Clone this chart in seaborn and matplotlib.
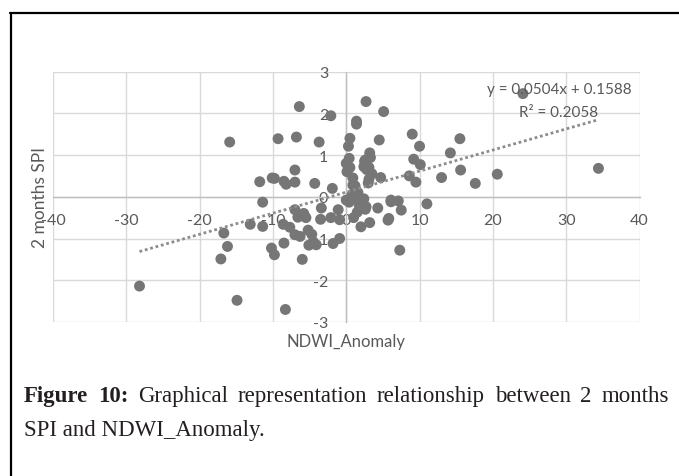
import matplotlib
matplotlib.use('Agg')
import matplotlib.pyplot as plt
import pandas as pd
import seaborn as sns
from matplotlib.lines import Line2D

# values
ndwi_anomaly = [
    24.1, 34.4, -28.2, -14.9, -8.3, -15.9, -6.4, -2.1, 2.7, 5.1,
    1.4, 1.4, -9.3, -6.8, -3.7, 0.5, 0.3, 4.5, 9.0, 10.0,
    15.5, 14.2, 9.2, 10.1, 15.6, 20.6, 17.6, 13.0, 8.6, 9.5,
    4.7, 3.2, 2.6, 2.4, 3.1, 3.1, 3.0, 0.0, 0.4, 0.1,
    0.9, 1.2, 1.6, 1.2, 2.4, 1.8, 2.6, 4.3, 1.5, 2.0,
    3.2, 5.8, 6.1, 7.1, 7.5, 11.0, 7.3, -1.9, -4.3, -7.0,
    -7.0, -8.5, -10.1, -11.8, -11.4, -13.1, -11.4, -16.7, -16.2, -17.1,
    -10.2, -9.8, -8.5, -7.0, -6.0, -7.0, -6.6, -8.6, -7.7, -5.5,
    -5.2, -4.7, -5.1, -4.1, -3.4, -3.5, -2.1, -1.1, -0.9, -1.8,
    -0.9, 0.4, 0.0, 2.7, 5.7, 6.1, 0.9, 1.4, -9.8, -8.2,
    2.5, 2.8, 3.3, 0.5, -5.8, -6.3, -4.5, 1.0, 0.8, 3.5,
]
spi_2months = [
    2.47, 0.68, -2.14, -2.48, -2.70, 1.31, 2.16, 1.94, 2.28, 2.04,
    1.81, 1.74, 1.39, 1.43, 1.31, 1.40, 1.21, 1.36, 1.50, 1.21,
    1.39, 1.05, 0.90, 0.77, 0.64, 0.54, 0.32, 0.46, 0.50, 0.35,
    0.46, 1.05, 0.88, 0.72, 0.70, 0.42, 0.33, 0.80, 0.92, 0.60,
    0.45, 0.26, 0.10, -0.05, -0.05, -0.22, -0.30, -0.27, -0.37, -0.72,
    -0.62, -0.52, -0.08, -0.10, -0.32, -0.17, -1.28, 0.20, 0.32, 0.64,
    0.35, 0.37, 0.45, 0.36, -0.13, -0.66, -0.71, -0.87, -1.19, -1.49,
    -1.23, -1.39, -1.11, -0.91, -1.50, -0.31, -0.49, -0.66, -0.73, -0.50,
    -0.80, -0.90, -1.16, -1.15, -0.27, -0.54, -0.50, -0.31, -0.55, -1.12,
    -1.00, -0.13, -0.08, -0.24, -0.56, -0.12, 0.28, 0.08, 0.44, 0.30,
    0.85, 0.65, 0.94, 0.70, -0.40, -0.95, -1.08, -0.50, 0.05, 0.55,
]
x_ticks = [-40, -30, -20, -10, 0, 10, 20, 30, 40]
y_ticks = [-3, -2, -1, 0, 1, 2, 3]
equation_text = 'y = 0.0504x + 0.1588'
r2_text = 'R² = 0.2058'
caption_bold = ['Figure', '10:']
caption_line1 = ['Graphical', 'representation', 'relationship', 'between', '2', 'months']
caption_line2 = 'SPI and NDWI_Anomaly.'

sns.set_theme(style='whitegrid')
plt.rcParams['font.family'] = ['Lato', 'DejaVu Sans']
plt.rcParams['axes.unicode_minus'] = False

W, H = 679, 477
fig = plt.figure(figsize=(W / 100, H / 100), dpi=100)
fig.patch.set_facecolor('white')
ax = fig.add_axes([53 / W, 1 - 323 / H, (639.5 - 53) / W, (323 - 72.5) / H])
ax.set_facecolor('white')

df = pd.DataFrame({'NDWI_Anomaly': ndwi_anomaly, 'SPI': spi_2months})
sns.regplot(data=df, x='NDWI_Anomaly', y='SPI', ax=ax, ci=None, truncate=True,
            color='#767676',
            scatter_kws=dict(s=62, edgecolor='none', alpha=1, zorder=3),
            line_kws=dict(color='#8c8c8c', lw=2, ls=(0, (1, 1)), zorder=4))

ax.set_xlim(-40, 40)
ax.set_ylim(-3, 3)
ax.set_xticks(x_ticks)
ax.set_yticks(y_ticks)
ax.grid(True, color='#d9d9d9', lw=1.0)
for side in ['top', 'right']:
    ax.spines[side].set_visible(False)
for side in ['left', 'bottom']:
    ax.spines[side].set_position(('data', 0))
    ax.spines[side].set_color('#bfbfbf')
    ax.spines[side].set_linewidth(1.0)
ax.tick_params(length=0, labelsize=11.5, labelcolor='#595959')
ax.tick_params(axis='x', pad=12)
ax.tick_params(axis='y', pad=13)

ax.set_xlabel('NDWI_Anomaly', fontsize=12, color='#595959')
ax.set_ylabel('2 months SPI', fontsize=12.5, color='#595959')
ax.xaxis.set_label_coords(0.5, -0.045)
ax.yaxis.set_label_coords(-0.008, 0.5)

ax.text(29.0, 2.59, equation_text, ha='center', va='center', fontsize=11, color='#595959', zorder=5)
ax.text(29.0, 2.02, r2_text, ha='center', va='center', fontsize=11, color='#595959', zorder=5)

# page frame
fig.add_artist(Line2D([10 / W, 1], [1 - 14 / H, 1 - 14 / H], color='black', lw=1.6))
fig.add_artist(Line2D([11 / W, 11 / W], [1 - 14 / H, 0], color='black', lw=1.6))

# caption, first line justified
serif = ['Liberation Serif', 'DejaVu Serif']
renderer = fig.canvas.get_renderer()
words = [(w, 'bold') for w in caption_bold] + [(w, 'normal') for w in caption_line1]
texts = []
for w, wt in words:
    t = fig.text(0, 1 - 402 / H, w, fontsize=16.5, fontweight=wt, family=serif,
                 va='baseline', ha='left', color='#231f20')
    texts.append(t)
widths = [t.get_window_extent(renderer).width for t in texts]
gap = (669 - 24 - sum(widths)) / (len(texts) - 1)
xpos = 24
for t, wd in zip(texts, widths):
    t.set_x(xpos / W)
    xpos += wd + gap
fig.text(24 / W, 1 - 436 / H, caption_line2, fontsize=16.5, family=serif,
         va='baseline', ha='left', color='#231f20')

fig.savefig('out.png', dpi=100)
